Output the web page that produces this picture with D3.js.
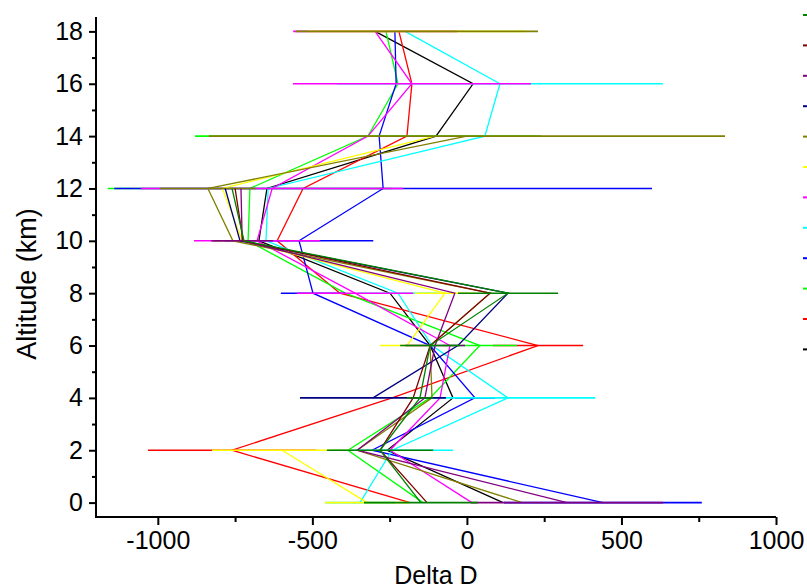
<!DOCTYPE html>
<html>
<head>
<meta charset="utf-8">
<script src="https://cdn.jsdelivr.net/npm/d3@7"></script>
<style>
  body { margin: 0; background: #fff; }
  svg { display: block; }
  text { font-family: "Liberation Sans", Arial, sans-serif; fill: #000; }
</style>
</head>
<body>
<svg id="chart" width="807" height="588"></svg>
<script>
// Altitude levels (km), shared by every profile
const altitudes = [0, 2, 4, 6, 8, 10, 12, 14, 16, 18];

// Delta D profiles, one value per altitude (null = no data at that level)
const blackVals   = [117, -258, -45, -119, -249, -673, -647, -100, 20, -297];
const redVals     = [-184, -760, -242, 230, -411, -614, -530, -194, -178, -220];
const greenVals   = [-142, -385, -119, 42, -394, -708, -702, -320, -223, -262];
const blueVals    = [440, -307, 26, -119, -498, -543, -271, -284, -229, -233];
const cyanVals    = [-346, -242, 133, -113, -223, -650, -643, 58, 107, -200];
const magentaVals = [16, -249, -87, -55, -362, -679, -630, -320, -178, -297];
const yellowVals  = [-323, -598, null, -194, -71, -727, -791, -103, null, -162];
const oliveVals   = [179, -355, -113, -119, 75, -757, -838, 0, null, -162];
const navyVals    = [null, null, -304, -29, 133, -734, -782, null, null, null];
const purpleVals  = [324, -355, -136, -103, -39, -727, -731, null, null, null];
const wineVals    = [-129, -281, -174, -119, 75, -724, -750, null, null, null];
const dkGreenVals = [-149, -281, -152, -119, 133, -721, -760, null, null, null];

// Horizontal error (± Delta D) per altitude; 0 = no bar drawn
const blackErr   = [0, 0, 0, 0, 0, 0, 0, 0, 0, 0];
const redErr     = [0, 272, 0, 146, 0, 0, 0, 0, 0, 0];
const greenErr   = [0, 0, 0, 120, 0, 0, 460, 560, 0, 0];
const blueErr    = [320, 0, 65, 0, 104, 240, 870, 0, 0, 0];
const cyanErr    = [113, 197, 282, 0, 130, 0, 0, 0, 527, 0];
const magentaErr = [0, 0, 0, 0, 188, 204, 424, 0, 385, 265];
const yellowErr  = [136, 227, 0, 87, 97, 0, 0, 0, 0, 353];
const oliveErr   = [0, 0, 0, 0, 0, 65, 155, 835, 0, 392];
const navyErr    = [0, 0, 236, 0, 0, 0, 0, 0, 0, 0];
const purpleErr  = [311, 0, 0, 97, 0, 100, 0, 0, 0, 0];
const wineErr    = [0, 0, 0, 0, 0, 0, 0, 0, 0, 0];
const dkGreenErr = [184, 172, 42, 97, 162, 0, 0, 0, 0, 0];

const seriesColors = ["#000000", "#ff0000", "#00ff00", "#0000ff", "#00ffff", "#ff00ff",
                      "#ffff00", "#808000", "#000080", "#800080", "#800000", "#008000"];

const xTickValues = [-1000, -500, 0, 500, 1000];
const xTickLabels = ["-1000", "-500", "0", "500", "1000"];
const xMinorTicks = [-750, -250, 250, 750];
const yTickValues = [0, 2, 4, 6, 8, 10, 12, 14, 16, 18];
const yTickLabels = ["0", "2", "4", "6", "8", "10", "12", "14", "16", "18"];
const yMinorTicks = [1, 3, 5, 7, 9, 11, 13, 15, 17];

const xTitle = "Delta D";
const yTitle = "Altitude (km)";

// Plot order: first series drawn first, later ones on top
const series = [
  [blackVals, blackErr], [redVals, redErr], [greenVals, greenErr], [blueVals, blueErr],
  [cyanVals, cyanErr], [magentaVals, magentaErr], [yellowVals, yellowErr], [oliveVals, oliveErr],
  [navyVals, navyErr], [purpleVals, purpleErr], [wineVals, wineErr], [dkGreenVals, dkGreenErr]
].map(([vals, errs], i) => ({
  color: seriesColors[i],
  points: altitudes.map((a, j) => ({ alt: a, v: vals[j], e: errs[j] }))
}));

const svg = d3.select("#chart");
const frame = { left: 96, right: 776, top: 17, bottom: 517 };

const x = d3.scaleLinear().domain([-1200, 1000]).range([frame.left, frame.right]);
const y = d3.scaleLinear().domain([-0.55, 18.55]).range([frame.bottom, frame.top]);

const line = d3.line()
  .defined(d => d.v !== null)
  .x(d => x(d.v))
  .y(d => y(d.alt));

const plot = svg.append("g");
series.forEach(s => {
  const g = plot.append("g");
  g.append("path")
    .datum(s.points)
    .attr("fill", "none")
    .attr("stroke", s.color)
    .attr("stroke-width", 1.3)
    .attr("d", line);
  g.selectAll("line.err")
    .data(s.points.filter(d => d.v !== null && d.e > 0))
    .join("line")
    .attr("class", "err")
    .attr("x1", d => x(d.v - d.e))
    .attr("x2", d => x(d.v + d.e))
    .attr("y1", d => y(d.alt))
    .attr("y2", d => y(d.alt))
    .attr("stroke", s.color)
    .attr("stroke-width", 1.6);
});

// Axes
const fontSize = 25;
const yAxis = d3.axisLeft(y).tickValues(yTickValues)
  .tickFormat((d, i) => yTickLabels[i]).tickSize(7).tickPadding(6);
const yMinor = d3.axisLeft(y).tickValues(yMinorTicks).tickFormat("").tickSize(4);
const xAxis = d3.axisBottom(x).tickValues(xTickValues)
  .tickFormat((d, i) => xTickLabels[i]).tickSize(8).tickPadding(6);
const xMinor = d3.axisBottom(x).tickValues(xMinorTicks).tickFormat("").tickSize(5);

function styleAxis(g) {
  g.select(".domain").remove();
  g.selectAll(".tick line").attr("stroke", "#000").attr("stroke-width", 2);
  g.selectAll(".tick text")
    .attr("font-size", fontSize)
    .attr("font-family", "'Liberation Sans', Arial, sans-serif")
    .attr("fill", "#000");
}

svg.append("g").attr("transform", `translate(${frame.left},0)`).call(yAxis).call(styleAxis);
svg.append("g").attr("transform", `translate(${frame.left},0)`).call(yMinor).call(styleAxis);
svg.append("g").attr("transform", `translate(0,${frame.bottom})`).call(xAxis).call(styleAxis);
svg.append("g").attr("transform", `translate(0,${frame.bottom})`).call(xMinor).call(styleAxis);

// Axis lines (left and bottom only)
svg.append("line").attr("x1", frame.left).attr("x2", frame.left)
  .attr("y1", frame.top).attr("y2", frame.bottom + 1)
  .attr("stroke", "#000").attr("stroke-width", 2);
svg.append("line").attr("x1", frame.left - 1).attr("x2", frame.right)
  .attr("y1", frame.bottom).attr("y2", frame.bottom)
  .attr("stroke", "#000").attr("stroke-width", 2);

// Axis titles
svg.append("text")
  .attr("x", (frame.left + frame.right) / 2).attr("y", 584)
  .attr("text-anchor", "middle")
  .attr("font-size", fontSize)
  .text(xTitle);
svg.append("text")
  .attr("transform", "translate(36,284) rotate(-90)")
  .attr("text-anchor", "middle")
  .attr("font-size", 27)
  .text(yTitle);

// Legend swatches, in reverse plotting order from the top
const legendX = 803, legendTop = 15, legendStep = 30.4;
svg.append("g").selectAll("line")
  .data(series.slice().reverse())
  .join("line")
  .attr("x1", legendX).attr("x2", legendX + 30)
  .attr("y1", (d, i) => legendTop + i * legendStep)
  .attr("y2", (d, i) => legendTop + i * legendStep)
  .attr("stroke", d => d.color)
  .attr("stroke-width", 2);
</script>
</body>
</html>
